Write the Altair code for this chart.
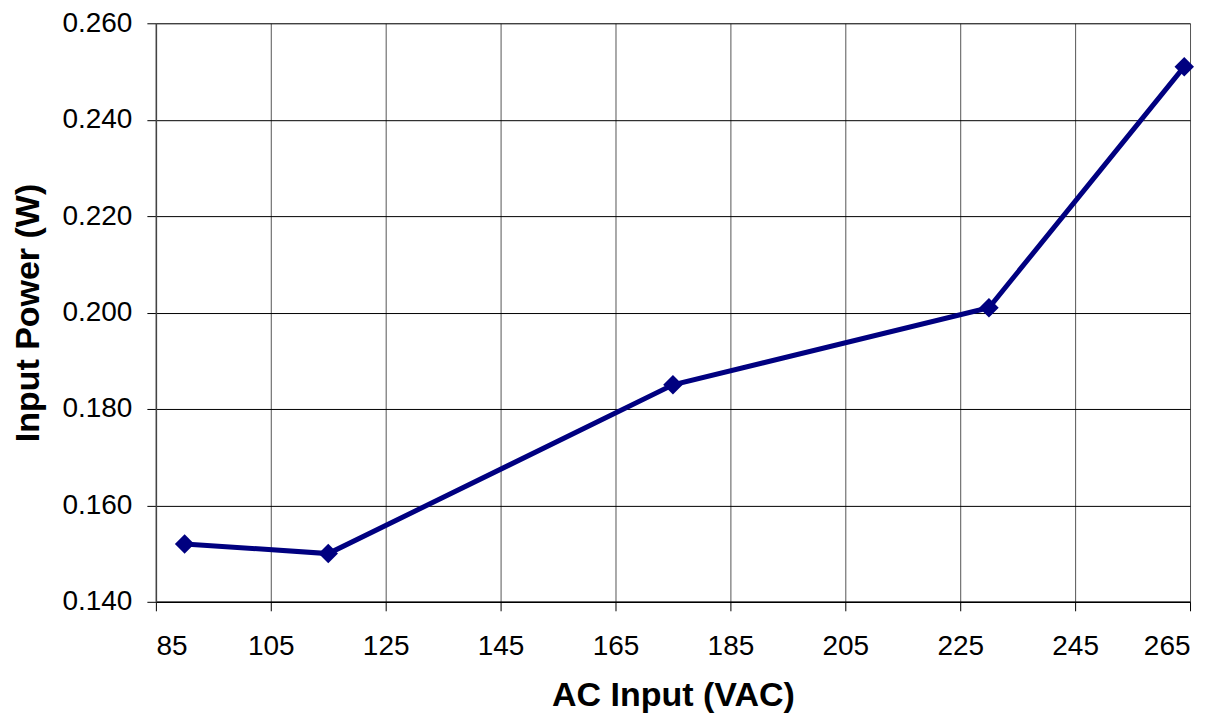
import altair as alt
import pandas as pd

ac_input = [90, 115, 175, 230, 264]
input_power = [0.152, 0.150, 0.185, 0.201, 0.251]

df = pd.DataFrame({"ac": ac_input, "p": input_power})

x_ticks = [85, 105, 125, 145, 165, 185, 205, 225, 245, 265]
y_ticks = [0.140, 0.160, 0.180, 0.200, 0.220, 0.240, 0.260]

FONT = "Liberation Sans"

x = alt.X("ac:Q", scale=alt.Scale(domain=[85, 265], nice=False, zero=False),
          axis=alt.Axis(values=x_ticks, title="AC Input (VAC)", format="d",
                        grid=True, gridColor="#555555", gridWidth=1,
                        domainColor="#000000", domainWidth=1.5,
                        tickColor="#000000", tickSize=9, tickWidth=1,
                        labelFont=FONT, labelFontSize=28, labelColor="#000000",
                        labelPadding=22,
                        titleFont=FONT, titleFontSize=34, titleFontWeight="bold",
                        titleColor="#000000", titlePadding=18))
y = alt.Y("p:Q", scale=alt.Scale(domain=[0.140, 0.260], nice=False, zero=False),
          axis=alt.Axis(values=y_ticks, title="Input Power (W)", format=".3f",
                        grid=True, gridColor="#000000", gridWidth=1,
                        domainColor="#444444", domainWidth=1.5,
                        tickColor="#000000", tickSize=9, tickWidth=1,
                        labelFont=FONT, labelFontSize=28, labelColor="#000000",
                        labelPadding=15,
                        titleFont=FONT, titleFontSize=34, titleFontWeight="bold",
                        titleColor="#000000", titlePadding=16))

line = alt.Chart(df).mark_line(color="#000080", strokeWidth=5).encode(x=x, y=y)
pts = alt.Chart(df).mark_point(shape="diamond", filled=True, size=380, color="#000080", opacity=1).encode(x=x, y=y)

chart = (line + pts).properties(
    width=1035, height=579,
    autosize=alt.AutoSizeParams(type="none"),
    padding={"left": 148, "top": 15, "right": 20, "bottom": 115},
).configure_view(stroke="#888888", strokeWidth=1.5).configure(background="white")

chart.save("out.html", embed_options={"renderer": "svg", "actions": False})
